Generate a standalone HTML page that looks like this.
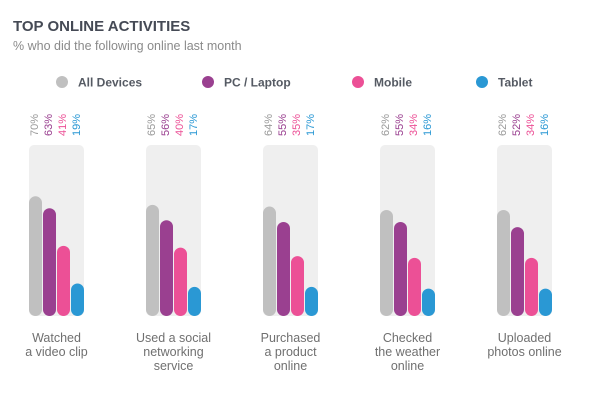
<!DOCTYPE html>
<html><head><meta charset="utf-8"><style>
body{margin:0;background:#fff;font-family:"Liberation Sans",sans-serif}
</style></head><body>
<svg id="chart" width="605" height="414" xmlns="http://www.w3.org/2000/svg">
<text x="13" y="31" font-size="15" font-weight="bold" fill="#454a55">TOP ONLINE ACTIVITIES</text>
<text x="13" y="50" font-size="12.5" fill="#8a8a8a">% who did the following online last month</text>
<g id="legend"></g>
<g id="groups"></g>
</svg>
<script>
const categories=[["Watched","a video clip"],["Used a social","networking","service"],["Purchased","a product","online"],["Checked","the weather","online"],["Uploaded","photos online"]];
const seriesNames=["All Devices","PC / Laptop","Mobile","Tablet"];
const allDevices=[70,65,64,62,62];
const pcLaptop=[63,56,55,55,52];
const mobile=[41,40,35,34,34];
const tablet=[19,17,17,16,16];
const series=[allDevices,pcLaptop,mobile,tablet];
const colors=["#c0c0c0","#9a4090","#ec5096","#2a98d4"];
const NS="http://www.w3.org/2000/svg";
function mk(tag,attrs,parent){const e=document.createElementNS(NS,tag);for(const k in attrs)e.setAttribute(k,attrs[k]);parent.appendChild(e);return e;}
const baseY=316, topY=145, maxV=100;
function yScale(v){return baseY-(v/maxV)*(baseY-topY);}
function groupX(i){return 29+i*117;}
const legend=document.getElementById('legend');
const legX=[62,208,358,482];
seriesNames.forEach((n,i)=>{
  const c=mk('circle',{cx:legX[i],cy:82,r:6,fill:colors[i]},legend);
  
  
  const t=mk('text',{x:legX[i]+16,y:86.5,'font-size':12,'font-weight':'bold',fill:'#555a63'},legend);
  t.textContent=n;
  
  
});
const groups=document.getElementById('groups');
categories.forEach((cat,i)=>{
  const gx=groupX(i);
  const g=mk('g',{},groups);
  
  
  const bg=mk('rect',{x:gx,y:topY,width:55,height:baseY-topY,rx:5,fill:'#efefef'},g);
  
  
  series.forEach((s,j)=>{
    const bx=gx+j*14;
    const y=yScale(s[i]);
    const b=mk('rect',{x:bx,y:y,width:13,height:baseY-y,rx:6.5,fill:colors[j]},g);
    
    
    const lx=bx+9, ly=136;
    const t=mk('text',{x:lx,y:ly,'font-size':11,fill:colors[j]==="#c0c0c0"?"#9a9a9a":colors[j],transform:`rotate(-90 ${lx} ${ly})`},g);
    t.textContent=s[i]+'%';
    
    
  });
  cat.forEach((line,k)=>{
    const t=mk('text',{x:gx+27.5,y:342+k*14,'text-anchor':'middle','font-size':12.5,fill:'#707070'},g);
    t.textContent=line;
    
    
  });
});
</script>
</body></html>
